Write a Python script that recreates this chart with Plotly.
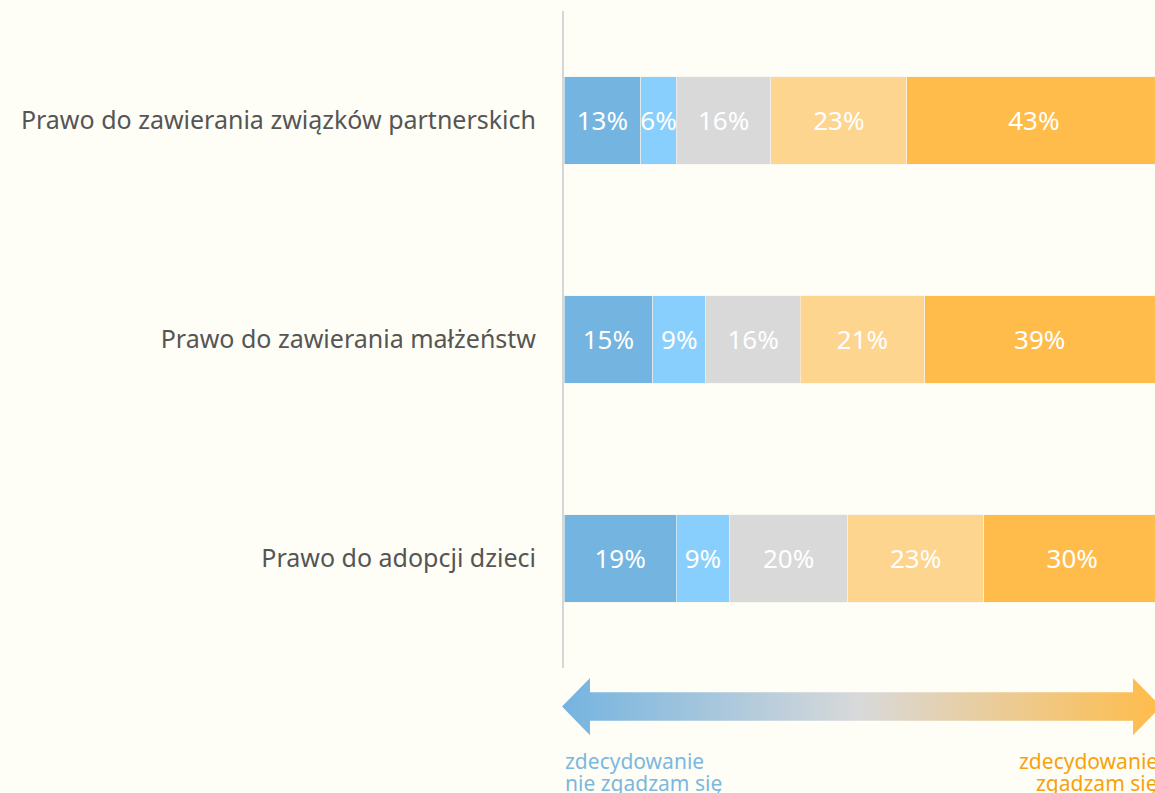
import plotly.graph_objects as go

# survey data
questions = ['Prawo do zawierania związków partnerskich',
             'Prawo do zawierania małżeństw',
             'Prawo do adopcji dzieci']
answers = ['zdecydowanie nie', 'raczej nie', 'trudno powiedzieć', 'raczej tak', 'zdecydowanie tak']
values = {
    'zdecydowanie nie': [13, 15, 19],
    'raczej nie': [6, 9, 9],
    'trudno powiedzieć': [16, 16, 20],
    'raczej tak': [23, 21, 23],
    'zdecydowanie tak': [43, 39, 30],
}
colors = ['#74b4e0', '#89cffd', '#d9d9d9', '#fed58f', '#ffbc4a']

bg = '#fffef6'
font_family = 'Noto Sans'

fig = go.Figure()
for name, color in zip(answers, colors):
    fig.add_trace(go.Bar(
        y=questions, x=values[name], name=name, orientation='h',
        marker=dict(color=color, line=dict(width=0.6, color='#f4f4ee')),
        text=[f'{v}%' for v in values[name]],
        textposition='inside', insidetextanchor='middle',
        textangle=0, constraintext='none',
        textfont=dict(color='white', size=26, family=font_family),
        hoverinfo='skip', showlegend=False,
    ))

# gradient double arrow under the bars (x in px of the lower strip)
fig.add_trace(go.Scatter(
    x=[562, 590, 590, 1133, 1133, 1161, 1133, 1133, 590, 590, 562],
    y=[0, 1, 0.5, 0.5, 1, 0, -1, -0.5, -0.5, -1, 0],
    xaxis='x2', yaxis='y2', mode='lines', line=dict(width=0),
    fill='toself',
    fillgradient=dict(type='horizontal',
                      colorscale=[[0, '#74b4e0'], [0.5, '#d9d9d9'], [1, '#ffbc4a']]),
    hoverinfo='skip', showlegend=False,
))

fig.update_layout(
    barmode='stack', bargap=0.6,
    width=1155, height=793,
    margin=dict(l=558, r=0, t=11, b=0),
    paper_bgcolor=bg, plot_bgcolor=bg,
    font=dict(family=font_family, color='#555555'),
    xaxis=dict(domain=[6 / 597, 1], range=[0, 100], visible=False, fixedrange=True),
    yaxis=dict(domain=[0.16, 1], autorange='reversed',
               showline=True, linecolor='#d6d6d6', linewidth=2,
               showgrid=False, ticks='', ticklabelstandoff=21,
               tickfont=dict(size=25, color='#555555')),
    xaxis2=dict(range=[558, 1155], visible=False, anchor='y2'),
    yaxis2=dict(range=[-1, 1], domain=[0.074, 0.147], visible=False, anchor='x2'),
)

# end labels of the scale, one annotation per line to keep the tight spacing
left_lines = ['zdecydowanie', 'nie zgadzam się']
right_lines = ['zdecydowanie', 'zgadzam się']
for i, (lt, rt) in enumerate(zip(left_lines, right_lines)):
    y = 0.041 - i * 0.028
    fig.add_annotation(
        text=lt, xref='paper', yref='paper', x=0.0084, y=y,
        xanchor='left', yanchor='middle', showarrow=False,
        font=dict(size=21, color='#7ab8e0', family=font_family))
    fig.add_annotation(
        text=rt, xref='paper', yref='paper', x=1.0084, y=y,
        xanchor='right', yanchor='middle', showarrow=False,
        font=dict(size=21, color='#f5a20f', family=font_family))

fig.write_html('out.html', config={'displayModeBar': False},
               post_script="document.body.style.margin='0';")
